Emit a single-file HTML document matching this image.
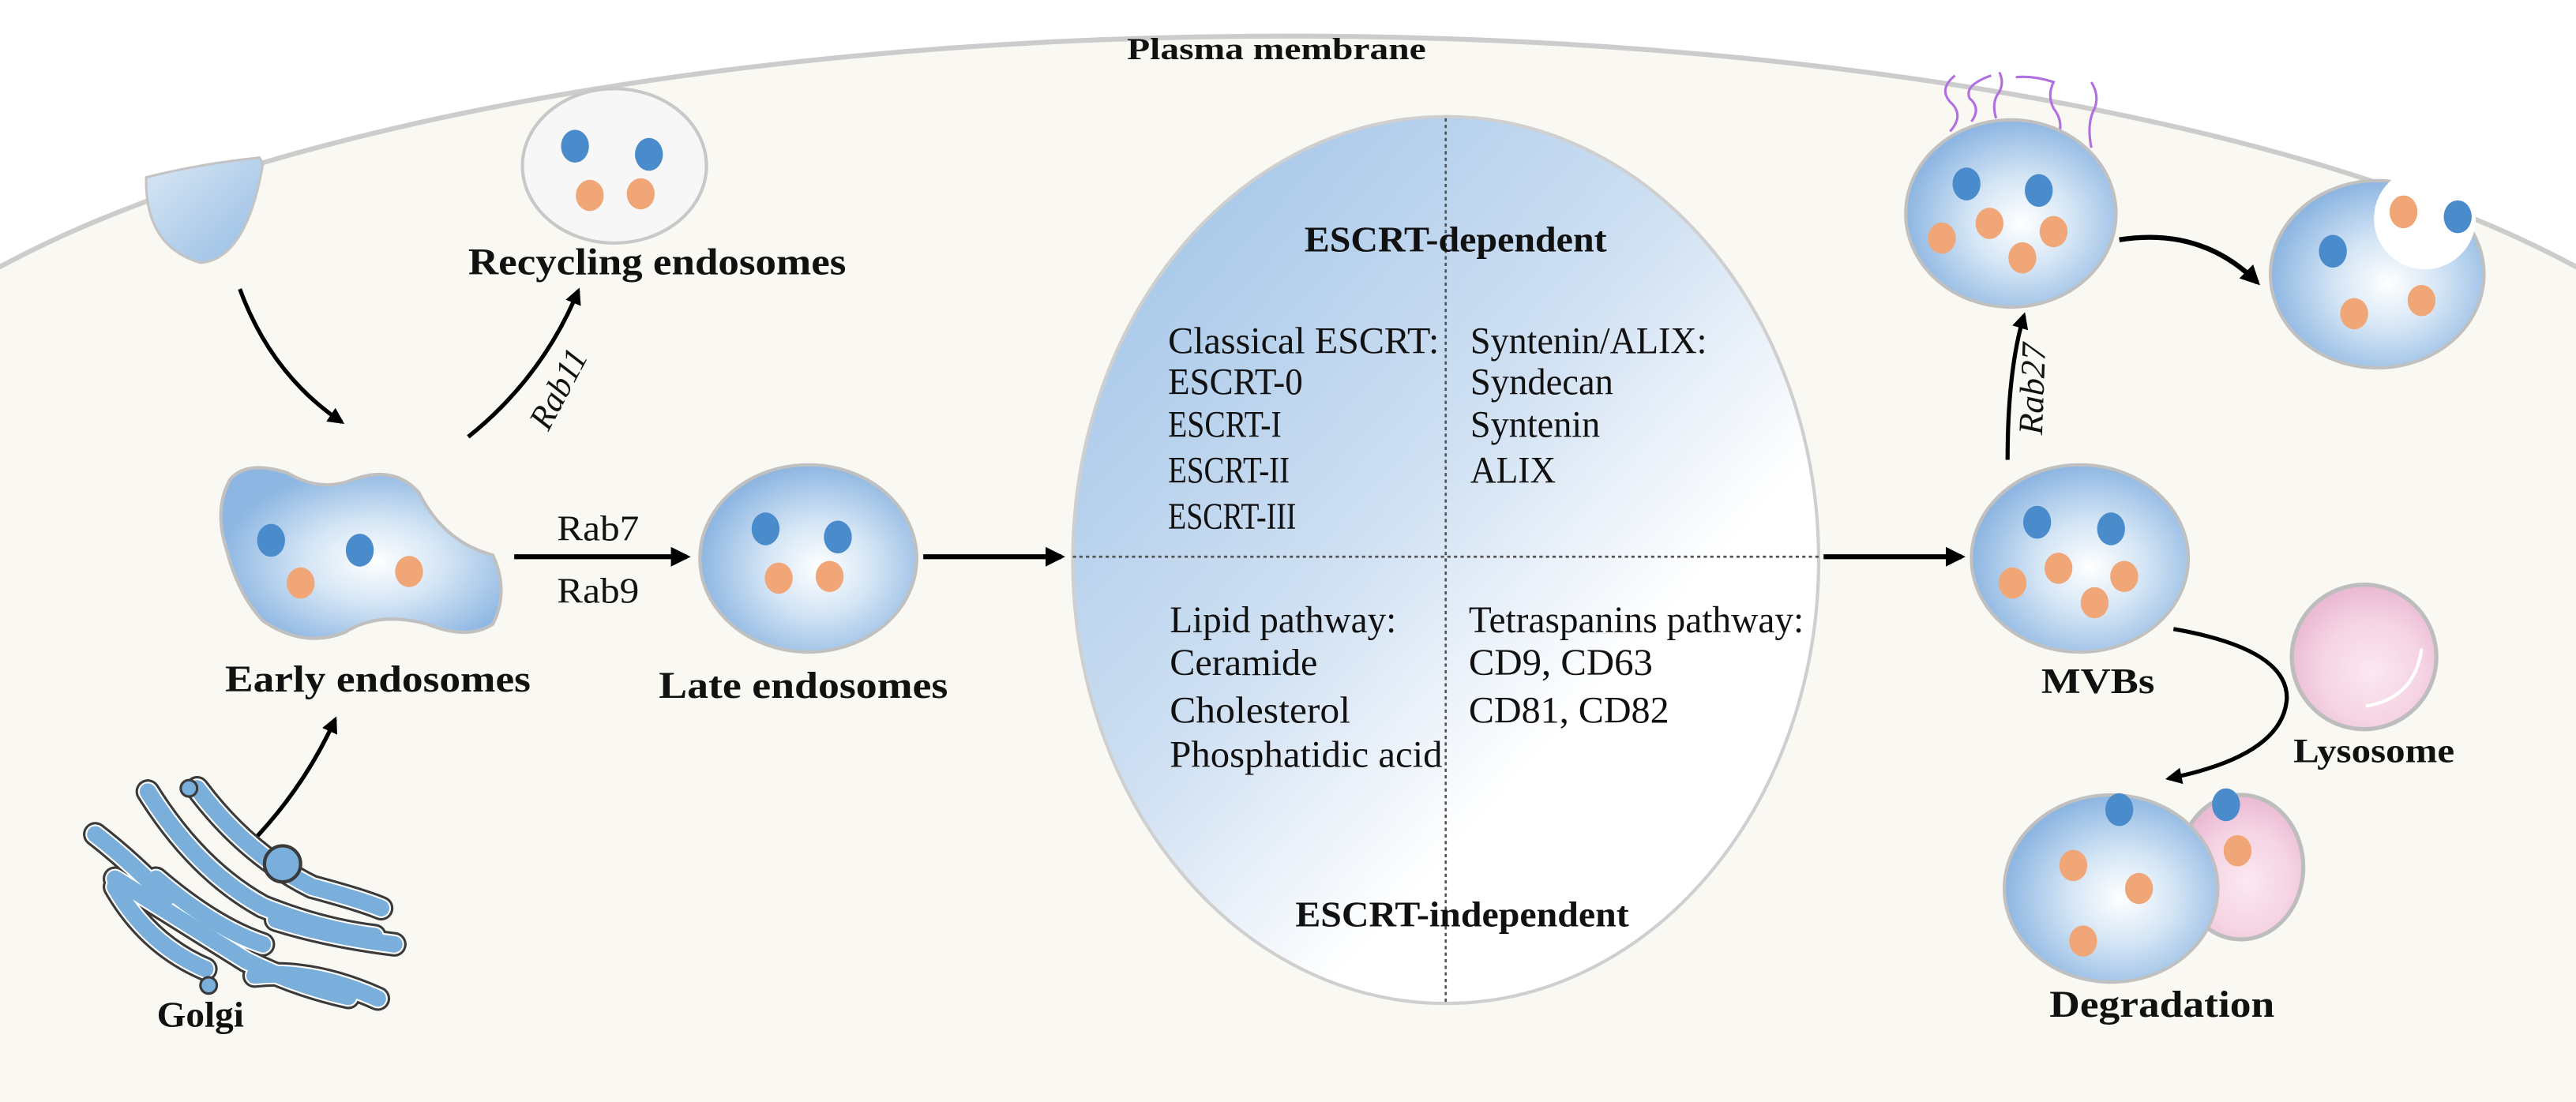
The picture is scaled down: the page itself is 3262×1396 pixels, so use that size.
<!DOCTYPE html>
<html><head><meta charset="utf-8"><style>
html,body{margin:0;padding:0;background:#fff;}
svg{display:block;}
text{font-family:"Liberation Serif",serif;fill:#111;}
.b{font-weight:bold;}
</style></head><body>
<svg width="3262" height="1396" viewBox="0 0 1568 671" preserveAspectRatio="none" xmlns="http://www.w3.org/2000/svg">
<defs>
<radialGradient id="ves" cx="0.55" cy="0.55" r="0.55">
<stop offset="0" stop-color="#ffffff"/><stop offset="0.45" stop-color="#d4e5f5"/><stop offset="1" stop-color="#8db6e2"/>
</radialGradient>
<linearGradient id="big" x1="0.1" y1="0.1" x2="0.75" y2="0.8">
<stop offset="0" stop-color="#a6c7e9"/><stop offset="0.5" stop-color="#cfe0f2"/><stop offset="0.85" stop-color="#ffffff"/>
</linearGradient>
<linearGradient id="drop" x1="0" y1="0" x2="1" y2="1">
<stop offset="0" stop-color="#dbe8f5"/><stop offset="1" stop-color="#94bce4"/>
</linearGradient>
<radialGradient id="pink" cx="0.55" cy="0.6" r="0.6">
<stop offset="0" stop-color="#fbe8f0"/><stop offset="0.6" stop-color="#f5d3e3"/><stop offset="1" stop-color="#eab8d2"/>
</radialGradient>
<marker id="ah" viewBox="0 0 10 10" refX="8" refY="5" markerWidth="4" markerHeight="4" orient="auto"><path d="M0,0 L10,5 L0,10 Z" fill="#000"/></marker>
</defs>
<!-- background -->
<rect x="0" y="0" width="1568" height="671" fill="#ffffff"/>
<path d="M-116,298 A900,276 0 0 1 1684,298 L1684,671 L-116,671 Z" fill="#f9f8f3"/>
<path d="M-116,298 A900,276 0 0 1 1684,298" fill="none" stroke="#cccccc" stroke-width="3"/>
<text x="777" y="36" class="b" font-size="19" text-anchor="middle" textLength="182" lengthAdjust="spacingAndGlyphs">Plasma membrane</text>

<!-- budding drop -->
<path d="M89,108 Q88,150 122,160 Q150,158 160,100 L158,96 Q120,100 89,108 Z" fill="url(#drop)" stroke="#c4c4c4" stroke-width="1.5"/>

<!-- recycling endosome -->
<ellipse cx="374" cy="101" rx="56" ry="47" fill="#f7f7f7" stroke="#c8c8c8" stroke-width="2"/>
<ellipse cx="350" cy="89" rx="8.5" ry="10" fill="#4a8bcc"/>
<ellipse cx="395" cy="94" rx="8.5" ry="10" fill="#4a8bcc"/>
<ellipse cx="359" cy="119" rx="8.5" ry="9.5" fill="#f0a676"/>
<ellipse cx="390" cy="118" rx="8.5" ry="9.5" fill="#f0a676"/>
<text x="400" y="167" class="b" font-size="23" text-anchor="middle" textLength="230" lengthAdjust="spacingAndGlyphs">Recycling endosomes</text>

<!-- arrows left -->
<path d="M146,176 Q165,228 208,257" fill="none" stroke="#000" stroke-width="2.5" marker-end="url(#ah)"/>
<path d="M285,266 Q330,230 352,177" fill="none" stroke="#000" stroke-width="2.5" marker-end="url(#ah)"/>
<text x="0" y="0" font-size="21" font-style="italic" transform="translate(346,240) rotate(-62)" text-anchor="middle" textLength="52" lengthAdjust="spacingAndGlyphs">Rab11</text>

<!-- early endosome -->
<path d="M140,292 Q150,280 175,288 Q195,300 215,292 Q240,283 255,300 Q270,330 300,338 Q310,360 300,380 Q285,390 260,380 Q230,372 210,385 Q185,395 160,378 Q145,362 138,335 Q130,310 140,292 Z" fill="url(#ves)" stroke="#c0c0c0" stroke-width="2"/>
<ellipse cx="165" cy="329" rx="8.5" ry="10" fill="#4a8bcc"/>
<ellipse cx="219" cy="335" rx="8.5" ry="10" fill="#4a8bcc"/>
<ellipse cx="183" cy="355" rx="8.5" ry="9.5" fill="#f0a676"/>
<ellipse cx="249" cy="348" rx="8.5" ry="9.5" fill="#f0a676"/>
<text x="230" y="421" class="b" font-size="23" text-anchor="middle" textLength="186" lengthAdjust="spacingAndGlyphs">Early endosomes</text>

<!-- golgi arrow -->
<path d="M152,514 Q185,480 204,438" fill="none" stroke="#000" stroke-width="2.5" marker-end="url(#ah)"/>

<!-- golgi -->
<g fill="none" stroke-linecap="round">
<g stroke="#3a3a3a" stroke-width="15">
<path d="M58,508 Q80,525 101,547"/>
<path d="M90,482 Q120,530 160,552 Q195,566 228,570"/>
<path d="M120,480 Q150,520 190,540 Q220,548 232,553"/>
<path d="M70,535 Q110,560 150,585 Q180,600 212,607"/>
<path d="M95,535 Q130,565 160,575"/>
<path d="M155,594 Q190,590 230,608"/>
<path d="M168,560 Q200,570 240,575"/>
<path d="M70,540 Q90,575 125,590"/>
</g>
<g stroke="#ffffff" stroke-width="12">
<path d="M58,508 Q80,525 101,547"/>
<path d="M90,482 Q120,530 160,552 Q195,566 228,570"/>
<path d="M120,480 Q150,520 190,540 Q220,548 232,553"/>
<path d="M70,535 Q110,560 150,585 Q180,600 212,607"/>
<path d="M95,535 Q130,565 160,575"/>
<path d="M155,594 Q190,590 230,608"/>
<path d="M168,560 Q200,570 240,575"/>
<path d="M70,540 Q90,575 125,590"/>
</g>
<g stroke="#7aaedb" stroke-width="10">
<path d="M58,508 Q80,525 101,547"/>
<path d="M90,482 Q120,530 160,552 Q195,566 228,570"/>
<path d="M120,480 Q150,520 190,540 Q220,548 232,553"/>
<path d="M70,535 Q110,560 150,585 Q180,600 212,607"/>
<path d="M95,535 Q130,565 160,575"/>
<path d="M155,594 Q190,590 230,608"/>
<path d="M168,560 Q200,570 240,575"/>
<path d="M70,540 Q90,575 125,590"/>
</g>
</g>
<circle cx="172" cy="526" r="11" fill="#7aaedb" stroke="#3a3a3a" stroke-width="2"/>
<circle cx="115" cy="480" r="5" fill="#7aaedb" stroke="#3a3a3a" stroke-width="1.5"/>
<circle cx="127" cy="600" r="5" fill="#7aaedb" stroke="#3a3a3a" stroke-width="1.5"/>
<text x="122" y="625" class="b" font-size="22" text-anchor="middle" textLength="53" lengthAdjust="spacingAndGlyphs">Golgi</text>

<!-- Rab7 / Rab9 -->
<text x="364" y="329" font-size="22" text-anchor="middle" textLength="50" lengthAdjust="spacingAndGlyphs">Rab7</text>
<line x1="313" y1="339" x2="418" y2="339" stroke="#000" stroke-width="3" marker-end="url(#ah)"/>
<text x="364" y="367" font-size="22" text-anchor="middle" textLength="50" lengthAdjust="spacingAndGlyphs">Rab9</text>

<!-- late endosome -->
<ellipse cx="492" cy="340" rx="66" ry="57" fill="url(#ves)" stroke="#c0c0c0" stroke-width="2"/>
<ellipse cx="466" cy="322" rx="8.5" ry="10" fill="#4a8bcc"/>
<ellipse cx="510" cy="327" rx="8.5" ry="10" fill="#4a8bcc"/>
<ellipse cx="474" cy="352" rx="8.5" ry="9.5" fill="#f0a676"/>
<ellipse cx="505" cy="351" rx="8.5" ry="9.5" fill="#f0a676"/>
<text x="489" y="425" class="b" font-size="23" text-anchor="middle" textLength="176" lengthAdjust="spacingAndGlyphs">Late endosomes</text>

<line x1="562" y1="339" x2="646" y2="339" stroke="#000" stroke-width="3" marker-end="url(#ah)"/>

<!-- big ellipse -->
<ellipse cx="880" cy="341" rx="227" ry="270" fill="url(#big)" stroke="#cfcfcf" stroke-width="2"/>
<line x1="880" y1="72" x2="880" y2="611" stroke="#555" stroke-width="1.3" stroke-dasharray="2,2"/>
<line x1="653" y1="339" x2="1107" y2="339" stroke="#555" stroke-width="1.3" stroke-dasharray="2,2"/>
<text x="886" y="153" class="b" font-size="22" text-anchor="middle" textLength="184" lengthAdjust="spacingAndGlyphs">ESCRT-dependent</text>
<g font-size="23">
<text x="711" y="215" textLength="165" lengthAdjust="spacingAndGlyphs">Classical ESCRT:</text>
<text x="711" y="240" textLength="82" lengthAdjust="spacingAndGlyphs">ESCRT-0</text>
<text x="711" y="266" textLength="69" lengthAdjust="spacingAndGlyphs">ESCRT-I</text>
<text x="711" y="294" textLength="74" lengthAdjust="spacingAndGlyphs">ESCRT-II</text>
<text x="711" y="322" textLength="78" lengthAdjust="spacingAndGlyphs">ESCRT-III</text>
<text x="895" y="215" textLength="144" lengthAdjust="spacingAndGlyphs">Syntenin/ALIX:</text>
<text x="895" y="240" textLength="87" lengthAdjust="spacingAndGlyphs">Syndecan</text>
<text x="895" y="266" textLength="79" lengthAdjust="spacingAndGlyphs">Syntenin</text>
<text x="895" y="294" textLength="52" lengthAdjust="spacingAndGlyphs">ALIX</text>
<text x="712" y="385" textLength="138" lengthAdjust="spacingAndGlyphs">Lipid pathway:</text>
<text x="712" y="411" textLength="90" lengthAdjust="spacingAndGlyphs">Ceramide</text>
<text x="712" y="440" textLength="110" lengthAdjust="spacingAndGlyphs">Cholesterol</text>
<text x="712" y="467" textLength="166" lengthAdjust="spacingAndGlyphs">Phosphatidic acid</text>
<text x="894" y="385" textLength="204" lengthAdjust="spacingAndGlyphs">Tetraspanins pathway:</text>
<text x="894" y="411" textLength="112" lengthAdjust="spacingAndGlyphs">CD9, CD63</text>
<text x="894" y="440" textLength="122" lengthAdjust="spacingAndGlyphs">CD81, CD82</text>
</g>
<text x="890" y="564" class="b" font-size="22" text-anchor="middle" textLength="203" lengthAdjust="spacingAndGlyphs">ESCRT-independent</text>

<line x1="1110" y1="339" x2="1194" y2="339" stroke="#000" stroke-width="3" marker-end="url(#ah)"/>

<!-- MVB -->
<ellipse cx="1266" cy="340" rx="66" ry="57" fill="url(#ves)" stroke="#c0c0c0" stroke-width="2"/>
<ellipse cx="1240" cy="318" rx="8.5" ry="10" fill="#4a8bcc"/>
<ellipse cx="1285" cy="322" rx="8.5" ry="10" fill="#4a8bcc"/>
<ellipse cx="1225" cy="355" rx="8.5" ry="9.5" fill="#f0a676"/>
<ellipse cx="1253" cy="346" rx="8.5" ry="9.5" fill="#f0a676"/>
<ellipse cx="1293" cy="351" rx="8.5" ry="9.5" fill="#f0a676"/>
<ellipse cx="1275" cy="367" rx="8.5" ry="9.5" fill="#f0a676"/>
<text x="1277" y="422" class="b" font-size="22" text-anchor="middle" textLength="69" lengthAdjust="spacingAndGlyphs">MVBs</text>

<!-- Rab27 -->
<path d="M1222,280 Q1222,225 1232,192" fill="none" stroke="#000" stroke-width="2.5" marker-end="url(#ah)"/>
<text x="0" y="0" font-size="21" font-style="italic" transform="translate(1244,237) rotate(-88)" text-anchor="middle" textLength="56" lengthAdjust="spacingAndGlyphs">Rab27</text>

<!-- purple squiggles -->
<g fill="none" stroke="#b070e0" stroke-width="1.5">
<path d="M1187,80 Q1196,70 1187,62 Q1180,54 1190,46"/>
<path d="M1200,74 Q1206,66 1199,60 Q1195,52 1212,46"/>
<path d="M1215,72 Q1212,62 1217,56 Q1220,50 1217,44"/>
<path d="M1252,85 Q1257,75 1250,66 Q1246,58 1250,50 Q1238,46 1227,47"/>
<path d="M1273,90 Q1270,75 1275,66 Q1278,58 1273,50"/>
</g>
<!-- top MVB -->
<ellipse cx="1224" cy="130" rx="64" ry="57" fill="url(#ves)" stroke="#c0c0c0" stroke-width="2"/>
<ellipse cx="1197" cy="112" rx="8.5" ry="10" fill="#4a8bcc"/>
<ellipse cx="1241" cy="116" rx="8.5" ry="10" fill="#4a8bcc"/>
<ellipse cx="1182" cy="145" rx="8.5" ry="9.5" fill="#f0a676"/>
<ellipse cx="1211" cy="136" rx="8.5" ry="9.5" fill="#f0a676"/>
<ellipse cx="1250" cy="141" rx="8.5" ry="9.5" fill="#f0a676"/>
<ellipse cx="1231" cy="157" rx="8.5" ry="9.5" fill="#f0a676"/>

<path d="M1290,146 Q1340,138 1374,172" fill="none" stroke="#000" stroke-width="3" marker-end="url(#ah)"/>

<!-- fusing vesicle -->
<ellipse cx="1447" cy="167" rx="65" ry="57" fill="url(#ves)" stroke="#c0c0c0" stroke-width="2"/>
<circle cx="1476" cy="133" r="31" fill="#ffffff"/>
<ellipse cx="1463" cy="129" rx="8.5" ry="10" fill="#f0a676"/>
<ellipse cx="1496" cy="132" rx="8.5" ry="10" fill="#4a8bcc"/>
<ellipse cx="1420" cy="153" rx="8.5" ry="10" fill="#4a8bcc"/>
<ellipse cx="1433" cy="191" rx="8.5" ry="9.5" fill="#f0a676"/>
<ellipse cx="1474" cy="183" rx="8.5" ry="9.5" fill="#f0a676"/>

<!-- lysosome -->
<ellipse cx="1439" cy="400" rx="44" ry="44" fill="url(#pink)" stroke="#bdbdbd" stroke-width="2.5"/>
<path d="M1474,395 Q1470,425 1440,430" fill="none" stroke="#ffffff" stroke-width="2"/>
<text x="1445" y="464" class="b" font-size="21" text-anchor="middle" textLength="98" lengthAdjust="spacingAndGlyphs">Lysosome</text>
<path d="M1323,383 Q1392,395 1392,425 Q1390,460 1320,474" fill="none" stroke="#000" stroke-width="2.5" marker-end="url(#ah)"/>

<!-- degradation -->
<ellipse cx="1364" cy="528" rx="38" ry="44" fill="url(#pink)" stroke="#bdbdbd" stroke-width="2.5"/>
<ellipse cx="1285" cy="541" rx="65" ry="57" fill="url(#ves)" stroke="#c0c0c0" stroke-width="2"/>
<ellipse cx="1290" cy="493" rx="8.5" ry="10" fill="#4a8bcc"/>
<ellipse cx="1262" cy="527" rx="8.5" ry="9.5" fill="#f0a676"/>
<ellipse cx="1302" cy="541" rx="8.5" ry="9.5" fill="#f0a676"/>
<ellipse cx="1268" cy="573" rx="8.5" ry="9.5" fill="#f0a676"/>
<ellipse cx="1355" cy="490" rx="8.5" ry="10" fill="#4a8bcc"/>
<ellipse cx="1362" cy="518" rx="8.5" ry="9.5" fill="#f0a676"/>
<text x="1316" y="619" class="b" font-size="23" text-anchor="middle" textLength="137" lengthAdjust="spacingAndGlyphs">Degradation</text>
</svg>
</body></html>
